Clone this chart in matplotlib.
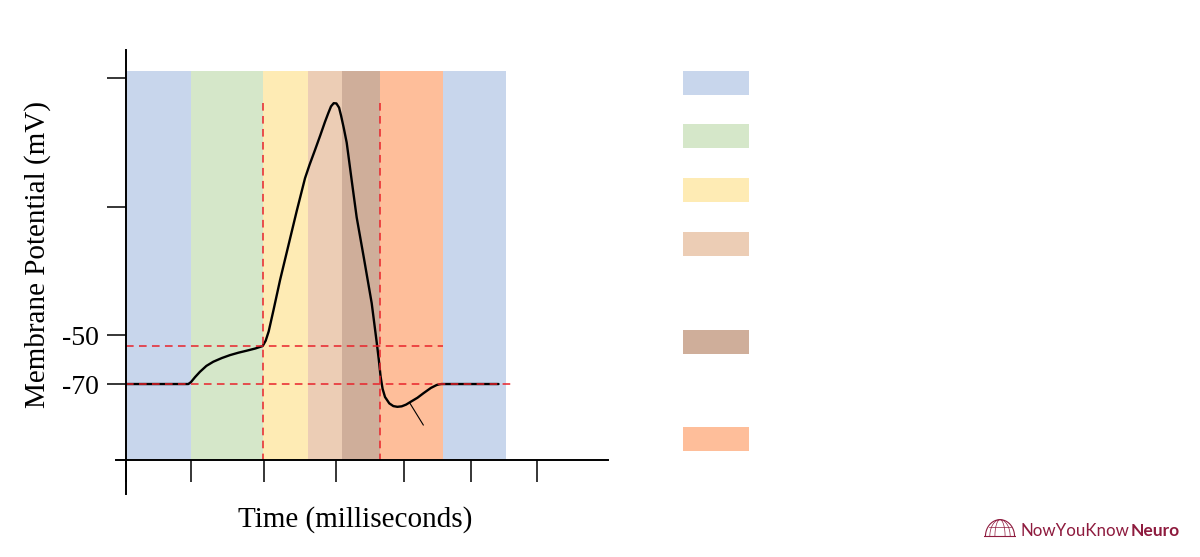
import numpy as np
import matplotlib.pyplot as plt
from matplotlib.patches import Rectangle

plt.rcParams['font.family'] = ['Liberation Serif', 'DejaVu Serif']

# action potential trace (time in ms, potential in mV)
t = [0.0, 0.93, 0.97, 1.03, 1.104, 1.20, 1.303, 1.43, 1.552, 1.68, 1.801, 1.93,
     2.04, 2.085, 2.13, 2.20, 2.30, 2.42, 2.548, 2.672, 2.74, 2.821,
     2.90, 2.97, 3.02, 3.06, 3.10, 3.14, 3.18, 3.21, 3.25, 3.294, 3.369, 3.443,
     3.55, 3.667, 3.742, 3.775, 3.80, 3.83, 3.866, 3.93, 3.99, 4.05, 4.115,
     4.18, 4.264, 4.35, 4.437, 4.55, 4.637, 4.68, 4.712, 5.56]
v = [-70.0, -70.0, -69.2, -67.2, -65.0, -62.6, -60.9, -59.4, -58.2, -57.2, -56.4, -55.5,
     -54.5, -52.3, -48.5, -40.0, -27.5, -13.9, 0.6, 14.0, 19.5, 25.5,
     31.5, 37.0, 40.6, 43.3, 44.6, 44.5, 42.8, 39.5, 34.5, 28.5, 13.0, -2.0,
     -18.5, -37.0, -53.0, -60.5, -67.0, -72.0, -75.3, -77.9, -79.0, -79.3, -79.1,
     -78.4, -77.0, -75.6, -73.8, -71.6, -70.4, -70.1, -70.0, -70.0]

# phase bands
band_edges = [0.0, 0.963, 2.04, 2.716, 3.224, 3.791, 4.724, 5.672]
band_colors = ['#C8D6EC', '#D5E7C9', '#FEEBB4', '#ECCDB5', '#CFAE9A', '#FEBE9A', '#C8D6EC']
band_top = 57.8

legend_colors = ['#C8D6EC', '#D5E7C9', '#FEEBB4', '#ECCDB5', '#CFAE9A', '#FEBE9A']

threshold = -54.5
resting = -70.0
peak = 44.7
v_lines = [2.04, 3.79]

x_ticks = [0.0, 0.963, 2.06, 3.14, 4.15, 5.15, 6.14]
y_ticks = [-70, -50, 2.4, 55.0]
y_labels = ['-70', '-50', '', '']

pointer_t = [4.239, 4.437]
pointer_v = [-77.9, -86.7]

xmin, xmax = 0.0, 7.194
ymin, ymax = -101.0, 66.3

fig = plt.figure(figsize=(12, 5.57), dpi=100)
ax = fig.add_axes([126/1200, 97/557, 482/1200, 410/557])
ax.set_xlim(xmin, xmax)
ax.set_ylim(ymin, ymax)

for i in range(len(band_colors)):
    ax.add_patch(Rectangle((band_edges[i], ymin), band_edges[i+1]-band_edges[i],
                           band_top-ymin, color=band_colors[i], lw=0, zorder=1))

ax.plot(t, v, color='black', lw=1.7, zorder=3, solid_capstyle='round',
        solid_joinstyle='round')
ax.plot(pointer_t, pointer_v, color='black', lw=0.8, zorder=3)

red = '#E8232B'
ax.plot([0, band_edges[6]], [threshold, threshold], ls=(0, (5, 3.5)), color=red, lw=1.1, zorder=4)
ax.plot([0, 5.79], [resting, resting], ls=(0, (5, 3.5)), color=red, lw=1.1, zorder=4, clip_on=False)
for x in v_lines:
    ax.plot([x, x], [peak, ymin], ls=(0, (5, 3.5)), color=red, lw=1.1, zorder=4)

for s in ax.spines.values():
    s.set_visible(False)
ax.plot([-0.15, xmax], [ymin, ymin], color='black', lw=1.4, clip_on=False, zorder=5)
ax.plot([0, 0], [-114.9, ymax], color='black', lw=1.4, clip_on=False, zorder=5)

ax.set_xticks(x_ticks)
ax.set_xticklabels([])
ax.set_yticks(y_ticks)
ax.set_yticklabels(y_labels)
ax.tick_params(axis='x', length=15.5, width=1.1, direction='out')
ax.tick_params(axis='y', length=13.5, width=1.1, direction='out', labelsize=20, pad=6)

ax.set_xlabel('Time (milliseconds)', fontsize=21)
ax.xaxis.set_label_coords((355-126)/482, -0.112)
ax.set_ylabel('Membrane Potential (mV)', fontsize=21, labelpad=8)

# legend swatches (labels absent in the source)
sw_y = [71, 124, 178, 232, 330, 427]
for c, y in zip(legend_colors, sw_y):
    fig.add_artist(Rectangle((683/1200, 1 - (y+24)/557), 66/1200, 24/557,
                             transform=fig.transFigure, color=c, lw=0))

# logo
logo_col = '#8E1B3E'
fig.text(1020/1200, 1 - 536/557, 'NowYouKnow', color=logo_col, fontsize=12.2,
         family='Lato', va='baseline', ha='left')
fig.text(1131/1200, 1 - 536/557, 'Neuro', color=logo_col, fontsize=12.5,
         family='Lato', weight='bold', va='baseline', ha='left')
iax = fig.add_axes([984/1200, 1 - 538/557, 32/1200, 20/557])
iax.set_xlim(-1.1, 1.1)
iax.set_ylim(-0.1, 1.1)
iax.axis('off')
th = np.linspace(0, np.pi, 40)
iax.plot(np.cos(th), np.sin(th), color=logo_col, lw=0.8)
iax.plot([-1.1, 1.1], [0, 0], color=logo_col, lw=0.8)
for a in [0.35, 0.7]:
    iax.plot(a*np.cos(th), np.sin(th), color=logo_col, lw=0.5)
iax.plot(np.cos(th[8:32])*0.95, 0*th[8:32] + 0.55, color=logo_col, lw=0.5)

fig.savefig('out.png', dpi=100)
